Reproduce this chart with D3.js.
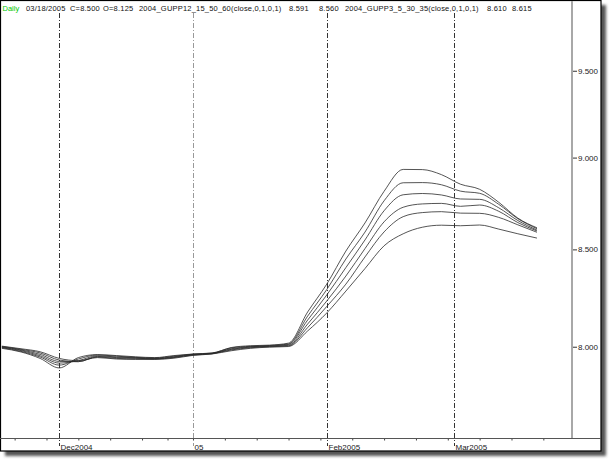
<html>
<head>
    <style>
        body { margin: 0; background: white; font-family: "Liberation Sans", Arial, sans-serif }
        svg { display: block }
    </style>
    <script src="https://cdn.jsdelivr.net/npm/d3@7"></script>
</head>
<body>
    <svg id="Chart"></svg>
<script>
    // header texts of the price window
    let headerTexts = ["03/18/2005", "C=8.500", "O=8.125", "2004_GUPP12_15_50_60(close,0,1,0,1)", "8.591", "8.560", "2004_GUPP3_5_30_35(close,0,1,0,1)", "8.610", "8.615"];
    let headerX = [26, 70, 103, 139, 289, 319, 345, 487, 512];

    // market holidays missing from the daily bars
    let holidays = ["2004-12-24", "2004-12-27"];
    let monthLabels = ["Dec2004", "05", "Feb2005", "Mar2005"];
    let yTicks = [8.0, 8.5, 9.0, 9.5];

    let sampleDates = ["2004-11-18", "2004-11-23", "2004-11-26", "2004-12-01", "2004-12-06", "2004-12-09", "2004-12-14", "2004-12-17", "2004-12-22", "2004-12-29",
        "2005-01-03", "2005-01-06", "2005-01-11", "2005-01-14", "2005-01-19", "2005-01-24", "2005-01-27", "2005-02-01", "2005-02-04", "2005-02-09",
        "2005-02-14", "2005-02-17", "2005-02-22", "2005-02-25", "2005-03-02", "2005-03-07", "2005-03-10", "2005-03-15", "2005-03-18"];

    let guppLine1 = [7.992, 7.974, 7.942, 7.895, 7.946, 7.961, 7.956, 7.950, 7.946, 7.956, 7.964, 7.969, 7.996, 8.005, 8.008, 8.018, 8.175, 8.318, 8.491, 8.641, 8.813, 8.934, 8.933, 8.905, 8.852, 8.824, 8.753, 8.667, 8.615];
    let guppLine2 = [7.995, 7.977, 7.949, 7.909, 7.939, 7.959, 7.953, 7.947, 7.944, 7.953, 7.963, 7.968, 7.994, 8.002, 8.006, 8.014, 8.154, 8.290, 8.449, 8.592, 8.761, 8.860, 8.861, 8.849, 8.814, 8.802, 8.742, 8.664, 8.610];
    let guppLine3 = [7.997, 7.981, 7.955, 7.919, 7.931, 7.955, 7.949, 7.945, 7.942, 7.950, 7.962, 7.967, 7.990, 8.000, 8.004, 8.011, 8.134, 8.262, 8.404, 8.550, 8.707, 8.794, 8.801, 8.793, 8.771, 8.769, 8.723, 8.654, 8.603];
    let guppLine4 = [7.999, 7.984, 7.962, 7.927, 7.926, 7.952, 7.946, 7.943, 7.940, 7.948, 7.960, 7.966, 7.987, 7.998, 8.002, 8.007, 8.114, 8.231, 8.360, 8.504, 8.647, 8.726, 8.744, 8.747, 8.731, 8.738, 8.704, 8.643, 8.598];
    let guppLine5 = [8.001, 7.987, 7.969, 7.934, 7.926, 7.949, 7.942, 7.940, 7.939, 7.946, 7.959, 7.965, 7.984, 7.995, 8.000, 8.004, 8.096, 8.203, 8.318, 8.460, 8.593, 8.675, 8.697, 8.702, 8.694, 8.693, 8.671, 8.631, 8.591];
    let guppLine6 = [8.003, 7.990, 7.975, 7.942, 7.931, 7.946, 7.939, 7.937, 7.937, 7.943, 7.957, 7.964, 7.980, 7.992, 7.998, 8.001, 8.079, 8.170, 8.282, 8.399, 8.519, 8.583, 8.618, 8.629, 8.626, 8.630, 8.608, 8.583, 8.560];

    let store = {};

    function buildCalendar() {
        // daily bars: weekdays only, holidays left out
        let fmt = d3.timeFormat("%Y-%m-%d");
        let days = d3.timeDay.range(new Date(2004, 10, 18), new Date(2005, 2, 31))
            .filter(d => d.getDay() != 0 && d.getDay() != 6)
            .filter(d => holidays.indexOf(fmt(d)) < 0);
        store.days = days;
        store.dayIndex = {};
        days.forEach((d, i) => store.dayIndex[fmt(d)] = i);
    }

    function getConfig() {
        let width = 610;
        let height = 460;
        let plot = { left: 1.9, right: 572, top: 0, bottom: 438 };
        let container = d3.select("#Chart")
            .attr("width", width)
            .attr("height", height);
        return { width, height, plot, container };
    }

    function getScales(config) {
        let { plot } = config;
        let xScale = d3.scaleLinear()
            .domain([0, 89.5])
            .range([plot.left, plot.right]);
        let yScale = d3.scaleLog()
            .domain([7.558, 9.928])
            .range([plot.bottom, plot.top]);
        return { xScale, yScale };
    }

    function drawFrame(config) {
        let { container } = config;
        let defs = container.append("defs");
        defs.append("filter").attr("id", "shadow")
            .append("feGaussianBlur").attr("stdDeviation", 1.6);

        container.append("rect")
            .attr("x", 5).attr("y", 5).attr("width", 601).attr("height", 451)
            .attr("fill", "#555")
            .attr("filter", "url(#shadow)");
        container.append("rect")
            .attr("x", 0.5).attr("y", 0.5).attr("width", 600.5).attr("height", 450.5)
            .attr("fill", "white")
            .attr("stroke", "black")
            .attr("stroke-width", 1.2);
    }

    function drawAxes(scales, config) {
        let { xScale, yScale } = scales;
        let { container, plot } = config;

        // price axis on the right
        container.append("line")
            .attr("x1", plot.right).attr("x2", plot.right)
            .attr("y1", 1).attr("y2", plot.bottom)
            .attr("stroke", "#a8a8a8").attr("stroke-width", 2);

        let axisY = d3.axisRight(yScale)
            .tickValues(yTicks)
            .tickFormat(d3.format(".3f"))
            .tickSize(4)
            .tickPadding(1);
        let gy = container.append("g")
            .attr("transform", `translate(${plot.right + 1},0)`)
            .call(axisY);
        gy.select(".domain").remove();
        gy.selectAll("line").attr("stroke", "#333");
        gy.selectAll("text")
            .attr("font-size", "8px")
            .attr("font-family", "'Liberation Sans', Arial, sans-serif")
            .attr("fill", "#222");

        // time axis, one tick on the first bar of each week
        let weekStarts = [];
        store.days.forEach((d, i) => {
            if (i == 0) return;
            if (d3.timeMonday.floor(d) > store.days[i - 1]) weekStarts.push(i);
        });
        let axisX = d3.axisBottom(xScale)
            .tickValues(weekStarts.filter(i => xScale(i) < plot.right))
            .tickSize(2.5)
            .tickFormat("");
        let gx = container.append("g")
            .attr("transform", `translate(0,${plot.bottom})`)
            .call(axisX);
        gx.select(".domain").remove();
        gx.selectAll("line").attr("stroke", "#444");

        container.append("line")
            .attr("x1", 0).attr("x2", 601)
            .attr("y1", plot.bottom + 0.5).attr("y2", plot.bottom + 0.5)
            .attr("stroke", "#555").attr("stroke-width", 1);

        // dash-dot separators at the first bar of each month
        let monthStarts = [];
        store.days.forEach((d, i) => {
            if (i > 0 && d.getMonth() != store.days[i - 1].getMonth()) monthStarts.push(i);
        });
        monthStarts = monthStarts.slice(0, monthLabels.length);

        container.selectAll(".month-line").data(monthStarts)
            .enter().append("line")
            .attr("class", "month-line")
            .attr("x1", d => Math.round(xScale(d)) + 0.5)
            .attr("x2", d => Math.round(xScale(d)) + 0.5)
            .attr("y1", 13).attr("y2", plot.bottom + 8)
            .attr("stroke", (d, i) => store.days[d].getMonth() == 0 ? "#999" : "#333")
            .attr("stroke-width", 1)
            .attr("stroke-dasharray", "5,2,1,2");

        container.selectAll(".month-label").data(monthStarts)
            .enter().append("text")
            .attr("class", "month-label")
            .attr("x", d => Math.round(xScale(d)) + 1.5)
            .attr("y", plot.bottom + 12)
            .attr("font-size", "8px")
            .attr("fill", "#222")
            .text((d, i) => monthLabels[i]);
    }

    function drawHeader(config) {
        let { container } = config;
        container.append("text")
            .attr("x", 2.5).attr("y", 11)
            .attr("font-size", "7.5px")
            .attr("fill", "#00c800")
            .text("Daily");
        container.selectAll(".header").data(headerTexts)
            .enter().append("text")
            .attr("class", "header")
            .attr("x", (d, i) => headerX[i])
            .attr("y", 11)
            .attr("font-size", "7.5px")
            .attr("letter-spacing", "0.2px")
            .attr("fill", "#111")
            .text(d => d);
    }

    function drawLines(scales, config) {
        let { xScale, yScale } = scales;
        let { container } = config;
        let series = [guppLine1, guppLine2, guppLine3, guppLine4, guppLine5, guppLine6];
        let line = d3.line()
            .x((d, i) => xScale(store.dayIndex[sampleDates[i]]))
            .y(d => yScale(d))
            .curve(d3.curveMonotoneX);

        container.selectAll(".gupp").data(series)
            .enter().append("path")
            .attr("class", "gupp")
            .attr("d", line)
            .attr("fill", "none")
            .attr("stroke", "#2a2a2a")
            .attr("stroke-width", 0.8);
    }

    function showChart() {
        buildCalendar();
        let config = getConfig();
        let scales = getScales(config);
        drawFrame(config);
        drawAxes(scales, config);
        drawLines(scales, config);
        drawHeader(config);
    }

    showChart();
</script>
</body>
</html>
